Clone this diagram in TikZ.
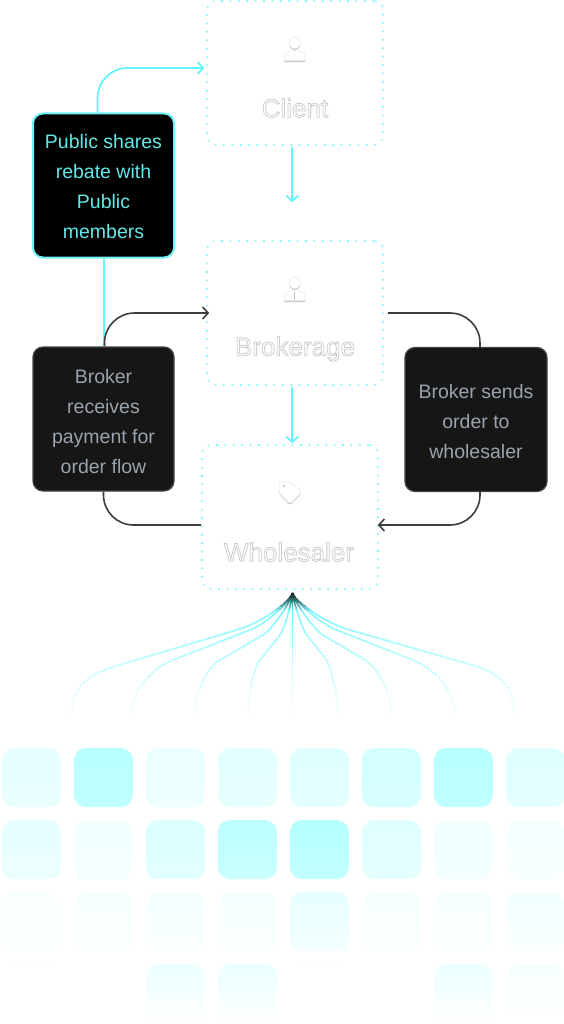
\documentclass[tikz,border=0pt]{standalone}
\usepackage{fontspec}
\setmainfont{Liberation Sans}
\newfontface\zonefont[RawFeature={embolden=3}]{Liberation Sans}
\usetikzlibrary{arrows.meta, positioning, calc, shadows}
\definecolor{dotcyan}{HTML}{7DFBFF}
\definecolor{flowcyan}{HTML}{5FF6FF}
\definecolor{rebatetext}{HTML}{63E8E8}
\definecolor{rebateedge}{HTML}{6FF2F5}
\definecolor{cardfill}{HTML}{161616}
\definecolor{cardedge}{HTML}{444444}
\definecolor{cardtext}{HTML}{9AA3AD}
\definecolor{flowdark}{HTML}{3D3D3D}
\definecolor{fandark}{HTML}{10201F}
\definecolor{fancyan}{HTML}{80FAFF}
\definecolor{tilecyan}{HTML}{B0FFFF}

% white label with a grey rim: fill colour first, stroke colour second
\newcommand{\softtext}[1]{\special{pdf:bcolor [1] [0.8]}#1\special{pdf:ecolor}}
% pushes the lines of a card down a little
\newcommand{\cardtop}[1]{\rule{0pt}{#1}}

\begin{document}
\begin{tikzpicture}[
    x=1pt, y=-1pt,
    zonebox/.style={
      draw=dotcyan, line width=1.6pt, rounded corners=9pt,
      dash pattern=on 1.6pt off 6.8pt,
      minimum width=176pt, minimum height=144pt, inner sep=0pt,
    },
    zonelabel/.style={font=\zonefont\fontsize{26}{30}\selectfont, inner sep=0pt},
    cardbox/.style={
      rounded corners=10pt, line width=1.2pt, align=center, inner sep=0pt,
      minimum width=141pt, minimum height=144pt,
      font=\fontsize{19.5}{30}\selectfont,
    },
    paybox/.style={cardbox, draw=cardedge, fill=cardfill, text=cardtext},
    rebatebox/.style={cardbox, draw=rebateedge, fill=black, text=rebatetext,
                      line width=2pt},
    cyanarrow/.style={-{Straight Barb[length=5.5pt,width=12pt]}, line width=1.7pt,
                      draw=flowcyan, rounded corners=30pt},
    cyanline/.style={line width=2pt, draw=flowcyan},
    darkarrow/.style={-{Straight Barb[length=5.5pt,width=12pt]}, line width=1.6pt,
                      draw=flowdark, rounded corners=30pt},
    darkline/.style={line width=1.6pt, draw=flowdark, rounded corners=30pt},
    iconshape/.style={fill=white, draw=black!9, line width=0.5pt,
                      drop shadow={shadow xshift=0pt, shadow yshift=-1.4pt,
                                   fill=black!35, opacity=0.6}},
    tilebox/.style={rounded corners=12pt, inner sep=0pt, anchor=north west,
                    minimum width=59pt, minimum height=59pt},
    personicon/.pic={
      \path[iconshape] (0,-18) circle (5.7pt);
      \path[iconshape] (-10.4,0) -- (-10.4,-3.5)
        .. controls (-10.4,-8) and (-5.5,-10.2) .. (0,-10.2)
        .. controls (5.5,-10.2) and (10.4,-8) .. (10.4,-3.5)
        -- (10.4,0) -- cycle;
    },
  ]

  \useasboundingbox (0,0) rectangle (564,1024);
  \fill[white] (0,0) rectangle (564,1024);

  % -----------------------------------------------------------
  % Centre column
  % -----------------------------------------------------------
  \node[zonebox] (client)     at (295, 73)  {};
  \node[zonebox] (brokerage)  at (295, 313) {};
  \node[zonebox] (wholesaler) at (290, 517) {};

  \node[zonelabel] (clientlabel)     at (295, 108) {\softtext{Client}};
  \node[zonelabel] (brokeragelabel)  at (295, 349) {\softtext{Brokerage}};
  \node[zonelabel] (wholesalerlabel) at (289, 552) {\softtext{Wholesaler}};

  \pic (clienticon) at (294.7, 60.7) {personicon};
  \pic (brokericon) at (294.7, 300.7) {personicon};
  \draw[black!25, line width=0.7pt] (294.7, 291.5) -- (294.7, 300);

  % tag icon
  \path[iconshape, rounded corners=2.2pt]
    (279,481.7) -- (290.7,481.7) -- (301.5,492.3) -- (290,504) -- (279,492.5) -- cycle;
  \fill[black!22] (284,485.8) circle (1.4pt);

  % -----------------------------------------------------------
  % Side cards
  % -----------------------------------------------------------
  \node[rebatebox] (rebate) at (103.5, 185.5)
        {\cardtop{16pt}Public shares\\rebate with\\Public\\members};
  \node[paybox] (payment) at (103.5, 419)
        {\cardtop{20pt}Broker\\receives\\payment for\\order flow};
  \node[paybox, minimum width=142pt] (sends) at (476, 419.5)
        {\cardtop{19pt}Broker sends\\order to\\wholesaler};

  % -----------------------------------------------------------
  % Connectors
  % -----------------------------------------------------------
  \draw[cyanarrow] ($(client.south)+(-2.7,1)$) -- ($(brokerage.north)+(-2.7,-38)$);
  \draw[cyanarrow] ($(brokerage.south)+(-2.7,1)$) -- ($(wholesaler.north)+(2.3,-1)$);
  \draw[cyanarrow] ($(rebate.north)+(-6,0)$) |- ($(client.west)+(-2,-5)$);
  \draw[cyanline]  (rebate.south) -- (payment.north);

  \draw[darkarrow] ($(payment.north)+(1,0)$) |- ($(brokerage.west)+(3,0)$);
  \draw[darkline]  (payment.south) |- ($(wholesaler.west)+(0,8)$);
  \draw[darkline]  ($(brokerage.east)+(4,0)$) -| ($(sends.north)+(4,0)$);
  \draw[darkarrow] ($(sends.south)+(4,0)$) |- ($(wholesaler.east)+(-1,8)$);

  % -----------------------------------------------------------
  % Fan below the wholesaler, coloured band by band
  % -----------------------------------------------------------
  \coordinate (fanapex) at (292.5, 593);
  \foreach \i/\ax/\ay/\bx/\by/\ex in {
      1/236.7/630/116/666/71.7,
      2/250/630/173/660/130,
      3/263/635/220/660/194,
      4/280/635/260/660/248,
      5/292.5/640/292.5/670/292.5,
      6/306.7/635/325/658/338,
      7/323/635/365/660/392,
      8/336.7/630/413/660/456,
      9/350/630/471.7/665/514} {
    \coordinate (fana\i)   at (\ax,\ay);
    \coordinate (fanb\i)   at (\bx,\by);
    \coordinate (fanend\i) at (\ex,718);
  }
  \foreach \bandy in {593,596,...,719} {
    \ifnum\bandy<611
      \pgfmathtruncatemacro\bandmix{(\bandy-593)*100/18}
      \colorlet{bandcol}{fancyan!\bandmix!fandark}
    \else
      \pgfmathtruncatemacro\bandmix{100*(1-(\bandy-611)/112)^1.2}
      \colorlet{bandcol}{fancyan!\bandmix!white}
    \fi
    \begin{scope}
      \clip (0,\bandy-0.2) rectangle (564,\bandy+3.2);
      \foreach \i in {1,...,9}
        \draw[bandcol, line width=1.5pt] (fanapex)
          .. controls ($(fanapex)+(0,5)$) and ($(fana\i)!-0.25!(fanb\i)$) .. (fana\i)
          -- (fanb\i)
          .. controls ($(fanb\i)!-0.3!(fana\i)$) and ($(fanend\i)+(0,-25)$) .. (fanend\i);
    \end{scope}
  }

  % -----------------------------------------------------------
  % Tile grid
  % -----------------------------------------------------------
  \foreach \rowy/\rowfade/\rowvals in {
      748/0.9/{30,90,25,35,40,55,90,40},
      820/0.8/{30,15,45,85,95,40,17,12},
      892/0.5/{6,10,13,12,30,10,10,15},
      964/0.0/{2,1,24,26,2,1,24,10}} {
    \foreach \pct [count=\col from 0] in \rowvals {
      \pgfmathtruncatemacro\botpct{\pct*\rowfade}
      \node[tilebox, top color=tilecyan!\pct!white, bottom color=tilecyan!\botpct!white]
        (tile-\rowy-\col) at ({1.7+72*\col},\rowy) {};
    }
  }

\end{tikzpicture}
\end{document}
